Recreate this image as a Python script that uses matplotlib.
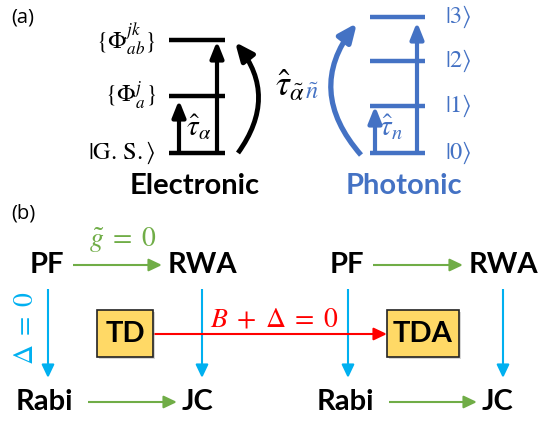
import matplotlib.pyplot as plt
from matplotlib.patches import FancyArrowPatch, Rectangle

plt.rcParams['mathtext.fontset'] = 'stix'
BOLD = 'Lato'

BLUE = '#4472C4'
GREEN = '#70AD47'
CYAN = '#00B0F0'
RED = '#FF0000'
BOX = '#FFD966'

# level ladders (pixel rows)
elec_levels = [40, 96, 153]
elec_labels = [r'$\{\Phi_{ab}^{jk}\}$', r'$\{\Phi_{a}^{j}\}$', r'$|\mathrm{G.\,S.}\rangle$']
phot_levels = [17, 61, 106, 153]
phot_labels = [r'$|3\rangle$', r'$|2\rangle$', r'$|1\rangle$', r'$|0\rangle$']

# panel (b) nodes
nodes = {'PF1': (47, 265), 'RWA1': (202, 265), 'Rabi1': (44, 402), 'JC1': (198, 402),
         'PF2': (347, 265), 'RWA2': (503, 265), 'Rabi2': (345, 402), 'JC2': (498, 402)}
node_text = {'PF1': 'PF', 'RWA1': 'RWA', 'Rabi1': 'Rabi', 'JC1': 'JC',
             'PF2': 'PF', 'RWA2': 'RWA', 'Rabi2': 'Rabi', 'JC2': 'JC'}

fig = plt.figure(figsize=(5.48, 4.23), dpi=100)
ax = fig.add_axes([0, 0, 1, 1])
ax.set_xlim(0, 548)
ax.set_ylim(423, 0)
ax.axis('off')


def arrow(p0, p1, color, lw, ms, hw, hl, rad=0.0):
    a = FancyArrowPatch(p0, p1, arrowstyle=f'-|>,head_width={hw},head_length={hl}',
                        connectionstyle=f'arc3,rad={rad}', color=color, lw=lw,
                        mutation_scale=ms, shrinkA=0, shrinkB=0, capstyle='butt')
    ax.add_patch(a)


ax.text(11, 18, '(a)', fontsize=14.5, va='center', ha='left', family='Open Sans')
ax.text(11, 214, '(b)', fontsize=14.5, va='center', ha='left', family='Open Sans')

# electronic ladder
for y, lab in zip(elec_levels, elec_labels):
    ax.plot([169, 225], [y, y], color='black', lw=3.2, solid_capstyle='butt')
    ax.text(156, y, lab, fontsize=17.5, ha='right', va='center')
arrow((179, 153), (179, 100), 'black', 3, 20, 0.2, 0.5)
arrow((217, 153), (217, 41), 'black', 3, 20, 0.2, 0.5)
arrow((238, 153), (235, 42), 'black', 3.5, 20, 0.24, 0.55, rad=0.38)
ax.text(186, 128, r'$\hat{\tau}_{\alpha}$', fontsize=21, ha='left', va='center')
ax.text(195, 186, 'Electronic', fontsize=21, fontweight='bold', family=BOLD,
        ha='center', va='center')

# photonic ladder
for y, lab in zip(phot_levels, phot_labels):
    ax.plot([370, 425], [y, y], color=BLUE, lw=3.2, solid_capstyle='butt')
    ax.text(445, y, lab, fontsize=17.5, ha='left', va='center', color=BLUE)
arrow((375, 153), (375, 106), BLUE, 3, 20, 0.2, 0.5)
arrow((417, 153), (417, 22), BLUE, 3, 20, 0.2, 0.5)
arrow((361, 155), (357, 23), BLUE, 3.8, 20, 0.24, 0.55, rad=-0.41)
ax.text(379, 128, r'$\hat{\tau}_{n}$', fontsize=21, ha='left', va='center', color=BLUE)
tau_mix = ax.text(275, 86, r'$\hat{\tau}_{\tilde{\alpha}}$', fontsize=25,
                  ha='left', va='center', color='black')
ax.annotate(r'$\tilde{n}$', xy=(1, 0), xycoords=tau_mix, fontsize=17.5,
            ha='left', va='bottom', color=BLUE)
ax.text(404, 186, 'Photonic', fontsize=21, fontweight='bold', family=BOLD,
        ha='center', va='center', color=BLUE)

# panel (b) nodes and transitions
for k, (x, y) in nodes.items():
    ax.text(x, y, node_text[k], fontsize=21, fontweight='bold', family=BOLD,
            ha='center', va='center')

for s in ('1', '2'):
    pf, rwa, rabi, jc = nodes['PF' + s], nodes['RWA' + s], nodes['Rabi' + s], nodes['JC' + s]
    arrow((pf[0] + 26, pf[1]), (rwa[0] - 40, rwa[1]), GREEN, 1.5, 10, 0.38, 0.8)
    arrow((rabi[0] + 44, rabi[1]), (jc[0] - 21, jc[1]), GREEN, 1.5, 10, 0.38, 0.8)
    arrow((pf[0] + 1, 289), (pf[0] + 1, 378), CYAN, 1.5, 10, 0.38, 0.8)
    arrow((rwa[0], 289), (rwa[0], 378), CYAN, 1.5, 10, 0.38, 0.8)

ax.text(123, 240, r'$\tilde{g}\;=\;0$', fontsize=20, ha='center', va='center', color=GREEN)
ax.text(25, 328, r'$\Delta\;=\;0$', fontsize=20, ha='center', va='center', color=CYAN,
        rotation=90)

# TD -> TDA
boxes = [(97, 310, 56, 47, 'TD'), (387, 310, 72, 47, 'TDA')]
arrow((153, 334), (387, 334), RED, 1.5, 10, 0.38, 0.8)
ax.text(274, 318, r'$B\;+\;\Delta\;=\;0$', fontsize=20, ha='center', va='center', color=RED)
for x, y, w, h, lab in boxes:
    ax.add_patch(Rectangle((x + 2, y + 2), w, h, facecolor='#BBBBBB', edgecolor='none',
                           alpha=0.6, zorder=3))
    ax.add_patch(Rectangle((x, y), w, h, facecolor=BOX, edgecolor='#222222', lw=1.2, zorder=4))
    ax.text(x + w / 2, y + h / 2 + 1, lab, fontsize=21, fontweight='bold', family=BOLD,
            ha='center', va='center', zorder=5)

fig.savefig('out.png', dpi=100)
